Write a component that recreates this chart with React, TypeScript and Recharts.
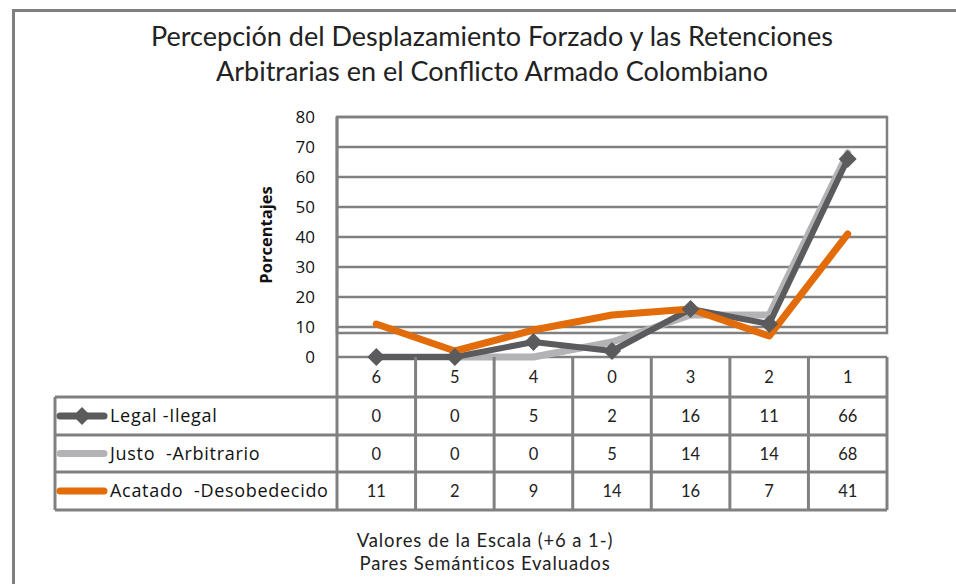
import React from 'react'
import { LineChart, Line, XAxis, YAxis, CartesianGrid, ReferenceArea } from 'recharts'

const categories = ['6', '5', '4', '0', '3', '2', '1']
const legalIlegal = [0, 0, 5, 2, 16, 11, 66]
const justoArbitrario = [0, 0, 0, 5, 14, 14, 68]
const acatadoDesobedecido = [11, 2, 9, 14, 16, 7, 41]
const yTicks = [0, 10, 20, 30, 40, 50, 60, 70, 80]

const series = [
  { key: 'legal', name: 'Legal -Ilegal', values: legalIlegal, color: '#5b5b5d', width: 6, diamond: true },
  { key: 'justo', name: 'Justo  -Arbitrario', values: justoArbitrario, color: '#b3b3b5', width: 7, diamond: false },
  { key: 'acatado', name: 'Acatado  -Desobedecido', values: acatadoDesobedecido, color: '#e26b0a', width: 7, diamond: false },
]
// drawing order: light gray sits under the dark line
const drawOrder = ['justo', 'legal', 'acatado']

const data = categories.map((cat, i) => ({
  idx: i,
  cat,
  legal: legalIlegal[i],
  justo: justoArbitrario[i],
  acatado: acatadoDesobedecido[i],
}))

// layout of plot + data table underneath
const W = 956
const H = 584
const plotLeft = 337
const plotRight = 887
const plotTop = 117
const plotBottom = 357
const colW = (plotRight - plotLeft) / categories.length
const legendLeft = 55
const rowLines = [397, 435, 472, 510]
const gridColor = '#808080'
const calibri = '"Open Sans", "Noto Sans", sans-serif'
const optima = 'Lato, "Noto Sans", sans-serif'

const Diamond = (props: any) => {
  const { cx, cy, index } = props
  if (cx == null || cy == null) return null
  const r = 9
  return (
    <path
      key={`d-${index}`}
      d={`M${cx},${cy - r} L${cx + r},${cy} L${cx},${cy + r} L${cx - r},${cy} Z`}
      fill="#5b5b5d"
    />
  )
}

const DataTable = () => {
  const top = plotBottom
  const bottom = rowLines[rowLines.length - 1]
  return (
    <svg width={W} height={H} style={{ position: 'absolute', left: 0, top: 0, pointerEvents: 'none' }}>
      {categories.map((_, i) => (
        <line key={`v${i}`} x1={plotLeft + i * colW} x2={plotLeft + i * colW} y1={top} y2={bottom} stroke={gridColor} strokeWidth={3} />
      ))}
      <line x1={plotRight} x2={plotRight} y1={top} y2={bottom} stroke={gridColor} strokeWidth={3} />
      <line x1={legendLeft} x2={legendLeft} y1={rowLines[0]} y2={bottom} stroke={gridColor} strokeWidth={3} />
      {rowLines.map((y) => (
        <line key={`h${y}`} x1={legendLeft} x2={plotRight} y1={y} y2={y} stroke={gridColor} strokeWidth={3} />
      ))}
      {categories.map((c, i) => (
        <text key={`c${i}`} x={plotLeft + (i + 0.5) * colW} y={(top + rowLines[0]) / 2 + 6} textAnchor="middle" fontFamily={optima} fontSize={16.5} fill="#222">
          {c}
        </text>
      ))}
      {series.map((s, r) => {
        const cy = (rowLines[r] + rowLines[r + 1]) / 2
        return (
          <g key={s.key}>
            <line x1={60} x2={104} y1={cy} y2={cy} stroke={s.color} strokeWidth={7} strokeLinecap="round" />
            {s.diamond && <Diamond cx={82} cy={cy} index={r} />}
            <text x={110} y={cy + 6} fontFamily={calibri} fontSize={18} letterSpacing={0.7} fill="#111" style={{ whiteSpace: 'pre' }}>
              {s.name}
            </text>
            {s.values.map((v, i) => (
              <text key={i} x={plotLeft + (i + 0.5) * colW} y={cy + 6} textAnchor="middle" fontFamily={optima} fontSize={16.5} fill="#222">
                {v}
              </text>
            ))}
          </g>
        )
      })}
    </svg>
  )
}

export default function App() {
  return (
    <div style={{ position: 'absolute', left: 0, top: 0, width: W, height: H, background: '#fff', overflow: 'hidden' }}>
      <div style={{ position: 'absolute', left: 12, top: 9, width: W, height: H, borderLeft: `3px solid ${gridColor}`, borderTop: `3px solid ${gridColor}` }} />
      <div style={{ position: 'absolute', left: 92, top: 18, width: 800, textAlign: 'center', fontFamily: optima, fontSize: 27, lineHeight: '35px', color: '#222' }}>
        Percepción del Desplazamiento Forzado y las Retenciones
        <br />
        Arbitrarias en el Conflicto Armado Colombiano
      </div>
      <LineChart
        width={W}
        height={H}
        data={data}
        margin={{ top: plotTop, right: W - plotRight, bottom: H - plotBottom, left: plotLeft - 60 }}
        style={{ position: 'absolute', left: 0, top: 0 }}
      >
        <CartesianGrid horizontal vertical={false} stroke={gridColor} strokeWidth={2.5} />
        <ReferenceArea x1={-0.5} x2={6.5} y1={8} y2={80} fill="none" fillOpacity={0} stroke={gridColor} strokeWidth={2.5} ifOverflow="visible" />
        <XAxis dataKey="idx" type="number" domain={[-0.5, 6.5]} hide />
        <YAxis
          width={60}
          domain={[0, 80]}
          ticks={yTicks}
          interval={0}
          tickLine={false}
          tickSize={0}
          tickMargin={22}
          axisLine={{ stroke: gridColor, strokeWidth: 3 }}
          tick={{ fontFamily: calibri, fontSize: 17, fill: '#111' }}
        />
        {drawOrder.map((k) => {
          const s = series.find((x) => x.key === k)!
          return (
            <Line
              key={s.key}
              type="linear"
              dataKey={s.key}
              name={s.name}
              stroke={s.color}
              strokeWidth={s.width}
              strokeLinecap="round"
              strokeLinejoin="round"
              dot={s.diamond ? (p: any) => <Diamond {...p} /> : false}
              activeDot={false}
              isAnimationActive={false}
            />
          )
        })}
      </LineChart>
      <div style={{ position: 'absolute', left: 265, top: 235, transform: 'translate(-50%, -50%) rotate(-90deg)', fontFamily: calibri, fontWeight: 700, fontSize: 16.5, color: '#111', whiteSpace: 'nowrap' }}>
        Porcentajes
      </div>
      <DataTable />
      <div style={{ position: 'absolute', left: 285, top: 529, width: 400, textAlign: 'center', fontFamily: optima, fontSize: 18.5, letterSpacing: 0.9, lineHeight: '23px', color: '#222' }}>
        Valores de la Escala (+6 a 1-)
        <br />
        Pares Semánticos Evaluados
      </div>
    </div>
  )
}
